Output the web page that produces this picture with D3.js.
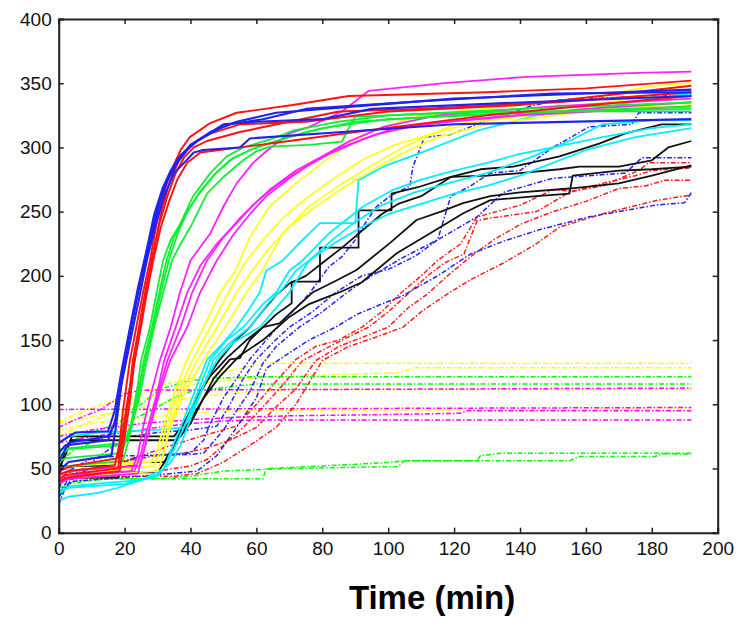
<!DOCTYPE html>
<html><head><meta charset="utf-8">
<script src="https://cdn.jsdelivr.net/npm/d3@7"></script>
<style>body{margin:0;background:#fff}svg{display:block}</style>
</head><body><svg id="chart" width="744" height="618"></svg>
<script>
// ---- data: each line is a list of [time (min), value] keypoints ----
const xTicks = [0, 20, 40, 60, 80, 100, 120, 140, 160, 180, 200];
const yTicks = [0, 50, 100, 150, 200, 250, 300, 350, 400];
const xLabel = "Time (min)";

const flatDashLines = [
  {c:"#ffff00", p:[[0,86],[5,92],[10,97],[17,103],[25,108],[33,116],[40,120],[50,125],[63,132],[192,132]]},
  {c:"#ffff00", p:[[0,75],[8,85],[15,92],[22,100],[30,108],[40,115],[55,120],[70,122],[103,124.5],[108,128.5],[192,128.5]]},
  {c:"#ffff00", p:[[0,85],[10,90],[20,95],[30,100],[40,105],[50,108],[60,110],[70,111.5],[192,111.5]]},
  {c:"#ffff00", p:[[0,80],[10,85],[20,88],[35,92],[50,95],[192,96.3]]},
  {c:"#00ff00", p:[[0,62],[3,70],[10,78],[18,85],[25,100],[31,112],[39,118],[45,120],[60,121.5],[192,121.5]]},
  {c:"#00ff00", p:[[0,55],[5,65],[15,75],[20,85],[28,95],[35,105],[40,110],[50,113],[60,115.8],[192,115.8]]},
  {c:"#00ff00", p:[[0,32],[3,38],[8,40],[15,42],[62,42],[63,50],[80,52],[100,54.6],[105,56],[127,56],[128,60],[134,61.8],[192,61.8]]},
  {c:"#00ff00", p:[[0,35],[5,40],[10,42],[30,42],[40,44],[50,48],[70,50],[103,51.5],[105,56],[155,56],[158,59.3],[181,59.3],[183,61.3],[192,61.3]]},
  {c:"#ff00ff", p:[[0,96],[192,97.5]]},
  {c:"#ff00ff", p:[[0,82],[5,88],[12,95],[20,108],[25,111],[192,112.6]]},
  {c:"#ff00ff", p:[[0,70],[10,75],[20,78],[30,82],[40,85],[50,87],[60,87.8],[192,87.8]]},
  {c:"#ff00ff", p:[[0,75],[10,80],[25,85],[40,88],[55,90],[70,91],[100,92],[122,93],[124,95],[192,95]]}
];

const redDashLines = [
  [[0,45],[5,48],[15,52],[25,60],[33,67],[43,75],[50,80],[54,83],[60,100],[66,118],[72,135],[78,145],[85,150],[92,160],[98,172],[103.6,186],[110,200],[115,212],[122,225],[127,246],[140,255],[150,267],[156,266],[165,270],[176,282],[179,288],[192,288]],
  [[0,42],[5,44],[20,46],[30,48],[40,52],[45,57],[50,68],[56,82],[62,98],[68,115],[74,134],[80,142],[86,150],[94,160],[100,172],[106,186],[112,200],[117,210],[123,217],[127,243],[131,245],[145,250],[155,265],[165,272],[175,278],[180,282],[192,284]],
  [[0,48],[5,52],[18,55],[30,60],[38,62],[45,66],[52,72],[60,82],[66,98],[72,112],[78,134],[85,145],[92,152],[100,160],[106,175],[112,186],[118,200],[125,215],[132,228],[140,240],[150,250],[160,258],[170,268],[178,270],[184,274.5],[192,274.5]],
  [[0,40],[5,42],[22,44],[35,44],[42,46],[50,55],[58,68],[66,82],[72,100],[80,134],[88,145],[96,152],[104.5,160],[110,172],[118,186],[125,197],[135,210],[145,225],[152,238],[166,249],[182,259],[192,263]]
];

const blueDashLines = [
  [[0,22],[2,35],[5,45],[10,50],[20,55],[25,60],[40,62],[44,72],[46,85],[50,105],[54,120],[58,135],[63,150],[68,165],[72,175],[76,186],[82,207],[86,215],[90,228],[93.5,243],[96.5,254],[100.5,262],[106.6,270],[107.5,285],[111,308],[119,310],[128,319],[135,325],[143,332],[152,337],[170,339],[192,341]],
  [[0,30],[3,42],[10,55],[18,70],[22,75],[30,78],[40,80],[48,83],[52,100],[56,120],[60,135],[65,148],[70,160],[77,172],[84,187],[92,200],[100,205],[108,215],[115,228],[119,262],[125,270],[131,280],[140,282],[150,300],[161,316],[174,318],[176,327],[192,327]],
  [[0,35],[3,48],[10,58],[20,60],[30,60],[40,61],[44,62],[50,80],[54,95],[58,110],[62,132],[66,145],[73,160],[80,172],[88,188],[95,200],[105,215],[115,228],[127,246],[135,265],[150,276],[172,280],[177,292],[192,292]],
  [[0,28],[4,40],[15,42],[30,45],[42,48],[48,60],[54,82],[60,105],[63,128],[70,140],[76,150],[84,160],[90.5,170],[98,178],[104,184],[115,200],[125,217],[135,227],[146,236],[161,246],[181,255],[190,257],[192,265]]
];

const blackLines = [
  [[0,45],[2,65],[4,72],[36,72],[40,85],[43,100],[47,120],[52,135],[55,136],[58,150],[62,160],[66,170],[70.7,178.6],[70.7,195.5],[79.3,195.5],[79.3,222],[91,222],[91,251],[101,251],[101,264],[109,269],[119,277],[128,283],[138,285],[152,293],[164,303],[172,311],[183,318],[192,318]],
  [[0,50],[2,60],[4,75],[35,75],[38,85],[41,100],[45,120],[49,135],[53,148],[58,160],[62,173],[66,185],[70,194],[75,200],[80,210],[86,222],[92,235],[98,248],[103,256],[110,262],[119,277],[130,278],[140,280],[152,283],[158,285],[170,285],[180,290],[185,300],[192,305]],
  [[0,42],[1,52],[23,52],[24,55],[32,55],[35,68],[38,85],[42,105],[46,122],[51,136],[57,150],[62,160],[67,163],[72,175],[77,187],[84,196],[90.4,204.6],[100.5,225.5],[108.6,243.5],[116,250],[122.7,256.6],[131,262],[140,265],[155,268],[170,272],[180,278],[192,286]],
  [[0,40],[1,43],[18,43],[19,47],[30,47],[33,58],[36,72],[40,88],[44,105],[49,122],[55,138],[62,150],[70,168],[76,178],[82,184],[86,188],[92,195],[102.6,217.6],[112,232],[122.8,248.7],[131,259],[145,262],[155,264],[156,278],[170,282],[180,283],[186,284],[192,285]]
];

const cyanLines = [
  [[0,25],[3,28],[12,31],[18,35],[25,41],[30,44],[32,50],[35,70],[37,82],[41,108],[45,134.6],[50,148],[54,160],[58,175],[61,187],[63,204],[68,212],[74,228],[79.3,241],[90,241],[91,274.5],[98.5,285],[110,296],[127,313],[145,325],[163,330],[180,338],[192,342]],
  [[0,30],[3,36],[15,39],[25,41],[32,50],[35,65],[38,82],[42,108],[46,134.6],[51,150],[56,160],[62,178],[66,187],[70,204],[74,212],[82,233],[92.4,254],[101.5,267],[110,275],[120,282],[130,288],[140,295],[150,300],[165,308],[180,315],[192,318]],
  [[0,32],[3,35],[20,38],[30,45],[34,55],[37,68],[39,82],[43,108],[47,134.6],[52,148],[58,160],[64,180],[68,190],[72,204],[76,212],[84,226],[92,238],[100,248],[110,256],[120,264],[130,270],[140,278],[150,288],[160,298],[175,308],[192,315]],
  [[0,70],[3,75],[12,78],[30,80],[38,82],[40,92],[44,115],[48,134.6],[53,148],[61,160],[66,175],[70,187],[74,204],[76,212],[83,228],[90,242],[98,255],[108,265],[118,272],[130,280],[143,292],[155,305],[165,318],[180,321],[192,321]]
];

const yellowLines = [
  [[0,45],[3,48],[28,55],[30,65],[31.7,82],[35,108],[38.8,134],[44,160],[49,187],[53.6,204],[58,230],[64,254],[72,272],[80,288],[90,306],[98.5,316],[110,325],[140,333],[165,340],[180,348],[192,350]],
  [[0,42],[3,45],[29,52],[31,65],[32.5,82],[36,108],[40.5,134],[46,160],[51.5,187],[56.5,210],[62,228],[68,245],[75,260],[83,275],[92,290],[102,302],[115,312],[130,322],[150,330],[192,344]],
  [[0,40],[4,44],[30,48],[32,62],[33.3,82],[37,108],[42,134],[48,160],[54,187],[59,205],[64,222],[70,238],[77,252],[86,268],[95,282],[104,295],[115,308],[130,318],[160,328],[192,336]],
  [[0,50],[4,52],[31,56],[32.5,68],[33.8,82],[38,108],[43.8,134],[50.5,160],[57,187],[61.7,204],[68,233],[76,254],[86,272],[96.5,288],[104.5,300],[120,318],[160,330],[192,333]]
];

const magentaLines = [
  [[0,42],[3,45],[22,48],[24,60],[25.6,82],[28,108],[30.7,134],[34,160],[36.8,187],[40,212],[46,233],[50,254],[54,272],[59,288],[63,297],[70,311],[76,316],[86,328],[94,344],[117,350],[142,355],[176,358],[192,359]],
  [[0,40],[4,44],[23,48],[25,62],[27,82],[29.5,105],[32,134],[35.5,160],[39,187],[43,208],[48,225],[54,241],[59,255],[64,267],[72,282],[80,293],[88,304.5],[98.5,316],[115,325],[150,332],[192,338]],
  [[0,38],[3,42],[24,46],[26,65],[27.7,82],[30,108],[33,134],[37,160],[40.5,187],[45,212],[50,230],[55,245],[61,260],[67,272],[75,285],[83,296],[92,306],[102,315],[125,322],[160,330],[192,335]],
  [[0,45],[3,48],[24.5,52],[26.5,70],[28,85],[31,112],[33.8,134],[39,160],[42.9,187],[48,212],[53,232],[58,248],[63,262],[70,276],[78,290],[86,300],[96,310],[110,318],[140,325],[192,332]]
];

const greenLines = [
  [[0,60],[3,65],[19,68],[20.5,75],[22,85],[24,115],[25,134],[27.7,160],[29.7,187],[31.7,212],[34,228],[36.8,240],[40.8,262],[46,280],[51,293],[56,300],[64,306],[71,313],[85,320],[100,325],[140,330],[192,335]],
  [[0,55],[2,58],[19,62],[21,75],[22.5,90],[24.5,115],[25.8,134],[28.3,160],[30.5,187],[32.7,212],[35,230],[38,245],[42,262],[47,278],[52,290],[58,298],[66,305],[75,312],[90,320],[120,325],[192,332]],
  [[0,50],[3,52],[19.5,56],[21,70],[23,92],[25,118],[26.2,134],[28.7,160],[31,187],[33.4,212],[36,232],[39,250],[43,266],[48,281],[53,292],[60,300],[70,308],[80,315],[100,322],[150,328],[192,330]],
  [[0,65],[4,66],[20,70],[22,82],[24.5,105],[26.7,134],[29,160],[31.7,187],[34.4,212],[37,225],[40,238],[45,264],[50,277],[56,290],[60,297],[64,300.6],[76,302],[86,304.5],[88,315],[90,324],[120,327],[140,328],[192,328]]
];

const redLines = [
  [[0,45],[3,48],[17,52],[18.5,70],[19.5,95],[21.6,134],[23.7,162],[25.6,187],[27.7,212],[30,245],[32.5,270],[34.7,285],[37,298],[39.8,308],[46,319],[54,327],[71,333],[88,340],[130,343],[160,346],[192,352]],
  [[0,42],[2,45],[18,50],[19.5,75],[21,100],[22.5,134],[24.5,162],[26.2,187],[28.2,212],[30.5,240],[33,262],[35.5,280],[38,292],[41,300],[45,305],[55,312],[70,320],[85,328],[110,330],[150,335],[192,343]],
  [[0,40],[3,43],[18.5,48],[20,75],[21.5,100],[23,134],[25,162],[26.8,187],[28.7,212],[31,238],[33.5,258],[36,275],[39,288],[43,296],[55,300],[70,305],[90,312],[130,325],[170,335],[192,340]],
  [[0,48],[4,52],[18,58],[19.5,80],[21,105],[23.5,140],[25.3,165],[26.5,187],[28.5,215],[31,248],[33.5,272],[36.5,290],[40,302],[45,310],[55,318],[75,320],[100,328],[140,333],[192,348]]
];

const blueLines = [
  [[0,55],[3,70],[15,75],[17,85],[18.5,110],[20,134],[22,160],[24,187],[26.5,212],[29,240],[31,260],[33,274],[36,288],[39,298],[42,305],[49,315],[54,320],[66,327],[90,332],[120,338],[160,342],[192,345]],
  [[0,62],[2,68],[15,72],[17.5,90],[19,115],[21,140],[23,165],[25,190],[27,215],[29.5,240],[32,262],[35,280],[38.8,290],[41,296],[43.8,298],[55,300],[58,307],[86,312],[120,318],[192,322]],
  [[0,48],[3,55],[16,60],[17.5,85],[19.5,125],[21.5,155],[23.5,180],[26,210],[28.5,238],[31,262],[33.5,278],[36,290],[40,302],[45,310],[50,318],[60,320],[80,322],[95,330],[140,335],[192,340]],
  [[0,70],[5,78],[15,79],[17,95],[19,125],[21.5,158],[24,190],[26.5,218],[29,248],[31.5,268],[34,282],[37,294],[41,303],[46,312],[52,318],[62,322],[75,330],[110,336],[150,342],[192,343]]
];

// ---- layout ----
const W = 744, H = 618;
const m = {left: 58.7, right: 744 - 717.7, top: 19, bottom: 618 - 532.7};
const svg = d3.select("#chart");
const x = d3.scaleLinear().domain([0, 200]).range([m.left, W - m.right]);
const y = d3.scaleLinear().domain([0, 400]).range([H - m.bottom, m.top]);

svg.append("defs").append("clipPath").attr("id", "clip")
  .append("rect").attr("x", m.left).attr("y", m.top)
  .attr("width", x(200) - m.left).attr("height", y(0) - m.top);

const line = d3.line().x(d => x(d[0])).y(d => y(d[1]));
const plot = svg.append("g").attr("clip-path", "url(#clip)").attr("fill", "none")
  .attr("stroke-linejoin", "round");

function draw(data, color, width, dash) {
  plot.append("g").selectAll("path").data(data).join("path")
    .attr("d", d => line(d))
    .attr("stroke", color).attr("stroke-width", width)
    .attr("stroke-dasharray", dash || null);
}
const dashDot = "5,2,1.5,2";
plot.append("g").selectAll("path").data(flatDashLines).join("path")
  .attr("d", d => line(d.p)).attr("stroke", d => d.c)
  .attr("stroke-width", 1.5).attr("stroke-dasharray", dashDot);
draw(redDashLines, "#ff1a1a", 1.5, dashDot);
draw(blueDashLines, "#2222ff", 1.5, dashDot);
draw(blackLines, "#111", 1.8);
draw(cyanLines, "#00f0ff", 1.8);
draw(yellowLines, "#ffff22", 1.8);
draw(magentaLines, "#ff22ff", 1.8);
draw(greenLines, "#11ee33", 1.8);
draw(redLines, "#ff1111", 1.9);
draw(blueLines, "#2222ee", 2.1);

// ---- axes (ticks inside, on all four sides) ----
const fnt = "'Liberation Sans', Arial, sans-serif";
const axB = svg.append("g").attr("transform", `translate(0,${y(0)})`)
  .call(d3.axisBottom(x).tickValues(xTicks).tickSize(-5).tickPadding(9));
const axL = svg.append("g").attr("transform", `translate(${m.left},0)`)
  .call(d3.axisLeft(y).tickValues(yTicks).tickSize(-5).tickPadding(7));
const axT = svg.append("g").attr("transform", `translate(0,${m.top})`)
  .call(d3.axisTop(x).tickValues(xTicks).tickSize(-5).tickFormat(""));
const axR = svg.append("g").attr("transform", `translate(${x(200)},0)`)
  .call(d3.axisRight(y).tickValues(yTicks).tickSize(-5).tickFormat(""));
[axB, axL, axT, axR].forEach(a => {
  a.select(".domain").attr("stroke", "#222").attr("stroke-width", 2);
  a.selectAll(".tick line").attr("stroke", "#222").attr("stroke-width", 1.5);
  a.selectAll("text").attr("font-family", fnt).attr("font-size", 19).attr("fill", "#111");
});

svg.append("text").attr("x", 432).attr("y", 609).attr("text-anchor", "middle")
  .attr("font-family", fnt).attr("font-weight", "bold").attr("font-size", 33)
  .attr("fill", "#000").text(xLabel);
</script></body></html>
